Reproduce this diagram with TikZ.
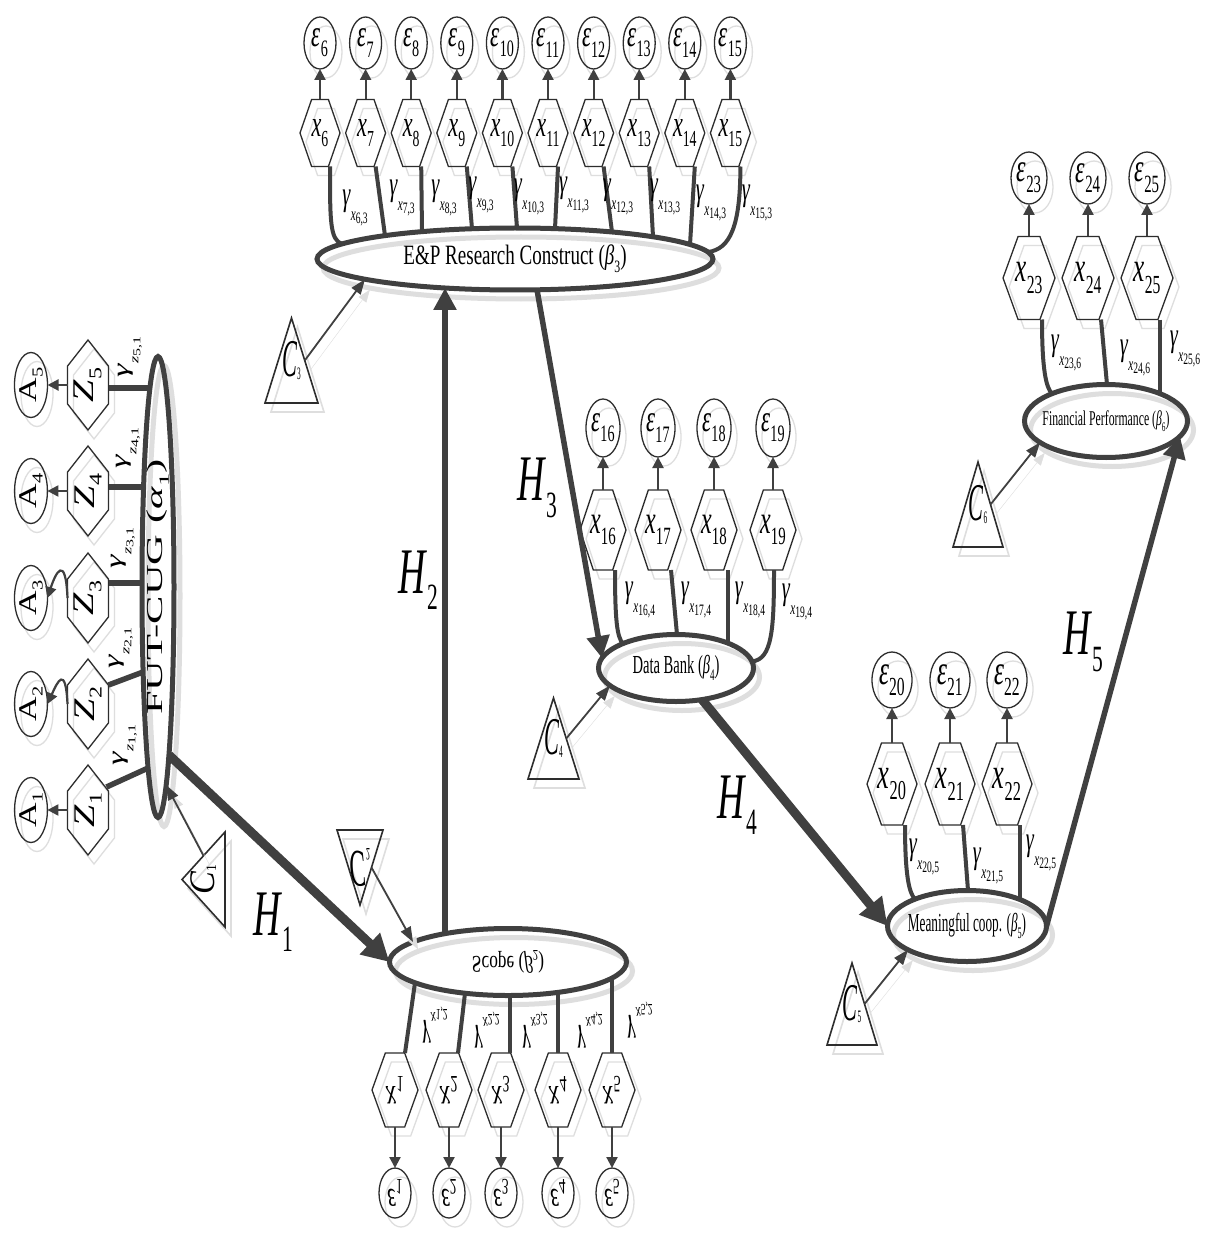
\documentclass[tikz,border=0pt]{standalone}
\usepackage{graphicx}
\usepackage{fontspec}
\setmainfont{Liberation Serif}
\usetikzlibrary{shapes.geometric,arrows.meta,calc}

\definecolor{ink}{RGB}{64,64,64}
\definecolor{edge}{RGB}{45,45,45}
\definecolor{ghost}{RGB}{222,222,222}

% hexagon with pointed left/right ends and triangle with apex on top
\makeatletter
\newdimen\hxXa \newdimen\hxXb \newdimen\hxYa \newdimen\hxYb
\newdimen\hxYm \newdimen\hxXl \newdimen\hxXr
\pgfdeclareshape{hexa}{
  \inheritsavedanchors[from=rectangle]
  \inheritanchorborder[from=rectangle]
  \inheritanchor[from=rectangle]{center}
  \inheritanchor[from=rectangle]{north}
  \inheritanchor[from=rectangle]{south}
  \inheritanchor[from=rectangle]{east}
  \inheritanchor[from=rectangle]{west}
  \inheritanchor[from=rectangle]{north east}
  \inheritanchor[from=rectangle]{north west}
  \inheritanchor[from=rectangle]{south east}
  \inheritanchor[from=rectangle]{south west}
  \backgroundpath{%
    \southwest \hxXa=\pgf@x \hxYa=\pgf@y
    \northeast \hxXb=\pgf@x \hxYb=\pgf@y
    \hxYm=0.5\hxYa \advance\hxYm by 0.5\hxYb
    \hxXl=\hxXb \advance\hxXl by -\hxXa \hxXl=0.29\hxXl
    \hxXr=\hxXb \advance\hxXr by -\hxXl
    \advance\hxXl by \hxXa
    \pgfpathmoveto{\pgfpoint{\hxXa}{\hxYm}}%
    \pgfpathlineto{\pgfpoint{\hxXl}{\hxYb}}%
    \pgfpathlineto{\pgfpoint{\hxXr}{\hxYb}}%
    \pgfpathlineto{\pgfpoint{\hxXb}{\hxYm}}%
    \pgfpathlineto{\pgfpoint{\hxXr}{\hxYa}}%
    \pgfpathlineto{\pgfpoint{\hxXl}{\hxYa}}%
    \pgfpathclose
  }
}
\pgfdeclareshape{tri}{
  \inheritsavedanchors[from=rectangle]
  \inheritanchorborder[from=rectangle]
  \inheritanchor[from=rectangle]{center}
  \inheritanchor[from=rectangle]{north}
  \inheritanchor[from=rectangle]{south}
  \inheritanchor[from=rectangle]{east}
  \inheritanchor[from=rectangle]{west}
  \inheritanchor[from=rectangle]{north east}
  \inheritanchor[from=rectangle]{north west}
  \inheritanchor[from=rectangle]{south east}
  \inheritanchor[from=rectangle]{south west}
  \backgroundpath{%
    \southwest \hxXa=\pgf@x \hxYa=\pgf@y
    \northeast \hxXb=\pgf@x \hxYb=\pgf@y
    \hxXl=0.5\hxXa \advance\hxXl by 0.5\hxXb
    \pgfpathmoveto{\pgfpoint{\hxXa}{\hxYa}}%
    \pgfpathlineto{\pgfpoint{\hxXb}{\hxYa}}%
    \pgfpathlineto{\pgfpoint{\hxXl}{\hxYb}}%
    \pgfpathclose
  }
}
\makeatother

% symbol with a lowered, smaller index
\newcommand\sublbl[4]{#1\raisebox{-#2em}{\scalebox{#3}{#4}}}
% narrow (horizontal) and flat (vertical) squeezing of labels
\newcommand\hsq[2][0.6]{\makebox[0pt]{\scalebox{#1}[1]{#2}}}
\newcommand\vsq[2][0.72]{\makebox[0pt]{\scalebox{1}[#1]{#2}}}
% a shape with its pale offset copy behind it
\newcommand\twinnode[4]{%
  \node[#1,ghostcopy] at ([shift={(6,9)}]#3) {};
  \node[#1] (#2) at (#3) {#4};}

\begin{document}
\begin{tikzpicture}[x=1pt,y=-1pt,
  every node/.style={inner sep=0pt,outer sep=0pt},
  ghostcopy/.style={draw=ghost},
  epsnode/.style={ellipse,draw=edge,line width=1.3pt,minimum width=32pt,minimum height=52pt,font=\fontsize{38}{38}\selectfont},
  hexnode/.style={hexa,draw=edge,line width=1.3pt,minimum width=40pt,minimum height=67pt,font=\fontsize{37}{37}\selectfont},
  bigell/.style={ellipse,draw=ink,line width=5pt},
  ctri/.style={tri,draw=edge,line width=1.6pt,font=\fontsize{53}{53}\selectfont},
  tiparrow/.style={draw=ink,line width=2.2pt,-{Triangle[length=11pt,width=11pt]}},
  linkline/.style={draw=ink,line width=4pt},
  harrow/.style={draw=ink,line width=#1,-{Triangle[length=22pt,width=22pt]}},
  harrow/.default=6pt,
  heavyarrow/.style={draw=ink,line width=9pt,-{Triangle[length=27pt,width=28pt]}},
  carrow/.style={draw=ink,line width=1.8pt,-{Triangle[length=15pt,width=11pt]},
    preaction={draw=ghost,transform canvas={shift={(6pt,-9pt)}}}},
  gammalab/.style={font=\fontsize{34}{34}\selectfont},
  hlab/.style={font=\fontsize{65}{65}\selectfont},
]
\fill[white] (0,0) rectangle (1204,1238);
\useasboundingbox (0,0) rectangle (1204,1238);

% ---------- E&P research construct (beta_3) ----------
\foreach \i in {6,...,15}{
  \pgfmathsetmacro\xx{320+45.6*(\i-6)}
  \twinnode{epsnode}{e\i}{\xx,43}{\hsq{\sublbl{\textit{ε}}{0.27}{0.62}{\i}}}
  \twinnode{hexnode}{h\i}{\xx,133}{\hsq{\sublbl{\textit{x}}{0.27}{0.62}{\i}}}
  \draw[tiparrow] (h\i) -- (e\i);
}
\twinnode{bigell,minimum width=396pt,minimum height=62pt,font=\fontsize{28}{28}\selectfont}{ep}{515,259}
  {\hsq[0.68]{E\&P Research Construct (\sublbl{\textit{β}}{0.27}{0.62}{3})}}
\foreach \i/\dx in {7/-130,8/-93,9/-43,10/2,11/40,12/97,13/138,14/175}
  \draw[linkline] ([xshift=10pt]h\i.south) -- ($(ep.center)+(\dx,{-31*sqrt(1-(\dx/198)*(\dx/198))})$);
\draw[linkline] ([xshift=10pt]h6.south) .. controls +(0,55) and +(-12,-4) ..
  ($(ep.center)+(-173,{-31*sqrt(1-(173/198)^2)})$);
\draw[linkline] ([xshift=10pt]h15.south) .. controls +(0,60) and +(22,-3) ..
  ($(ep.center)+(193,{-31*sqrt(1-(193/198)^2)})$);
\foreach \i/\gx/\gy in {6/355/208,7/402/198,8/444/198,9/481/195,10/529/197,11/574/195,12/618/197,13/665/197,14/711/203,15/757/203}
  \node[gammalab] (g\i) at (\gx,\gy) {\hsq{\sublbl{\textit{γ}}{0.45}{0.55}{\sublbl{\textit{x}}{0.15}{0.85}{\i,3}}}};

% ---------- Data Bank (beta_4) ----------
\foreach \i/\xx in {16/603,17/658,18/714,19/773}{
  \twinnode{epsnode,minimum width=34pt,minimum height=58pt}{e\i}{\xx,428}{\hsq{\sublbl{\textit{ε}}{0.27}{0.62}{\i}}}
  \twinnode{hexnode,minimum width=46pt,minimum height=80pt,font=\fontsize{40}{40}\selectfont}{h\i}{\xx,530}{\hsq{\sublbl{\textit{x}}{0.27}{0.62}{\i}}}
  \draw[tiparrow] (h\i) -- (e\i);
}
\twinnode{bigell,minimum width=155pt,minimum height=67pt,font=\fontsize{26}{26}\selectfont}{db}{676,668}
  {\hsq[0.56]{Data Bank (\sublbl{\textit{β}}{0.27}{0.62}{4})}}
\draw[linkline] ([xshift=12pt]h16.south) .. controls +(0,50) and +(-6,-6) ..
  ($(db.center)+(-53,{-33.5*sqrt(1-(53/77.5)^2)})$);
\draw[linkline] ([xshift=13pt]h17.south) -- ($(db.center)+(1,{-33.5*sqrt(1-(1/77.5)^2)})$);
\draw[linkline] ([xshift=14pt]h18.south) -- ($(db.center)+(52,{-33.5*sqrt(1-(52/77.5)^2)})$);
\draw[linkline] ([xshift=1pt]h19.south) .. controls +(0,60) and +(20,-2) ..
  ($(db.center)+(76,{-33.5*sqrt(1-(76/77.5)^2)})$);
\foreach \i/\gx/\gy in {16/640/600,17/696/600,18/750/600,19/797/602}
  \node[gammalab] (g\i) at (\gx,\gy) {\hsq{\sublbl{\textit{γ}}{0.45}{0.55}{\sublbl{\textit{x}}{0.15}{0.85}{\i,4}}}};

% ---------- Meaningful cooperation (beta_5) ----------
\foreach \i/\xx in {20/892,21/950,22/1007}{
  \twinnode{epsnode,minimum width=40pt,minimum height=56pt,font=\fontsize{42}{42}\selectfont}{e\i}{\xx,680}{\hsq{\sublbl{\textit{ε}}{0.27}{0.62}{\i}}}
  \twinnode{hexnode,minimum width=50pt,minimum height=82pt,font=\fontsize{44}{44}\selectfont}{h\i}{\xx,784}{\hsq{\sublbl{\textit{x}}{0.27}{0.62}{\i}}}
  \draw[tiparrow] (h\i) -- (e\i);
}
\twinnode{bigell,minimum width=159pt,minimum height=71pt,font=\fontsize{26}{26}\selectfont}{mc}{967,926}
  {\hsq[0.51]{Meaningful coop. (\sublbl{\textit{β}}{0.27}{0.62}{5})}}
\draw[linkline] ([xshift=13pt]h20.south) .. controls +(0,50) and +(-6,-6) ..
  ($(mc.center)+(-52,{-35.5*sqrt(1-(52/79.5)^2)})$);
\draw[linkline] ([xshift=13pt]h21.south) -- ($(mc.center)+(1,{-35.5*sqrt(1-(1/79.5)^2)})$);
\draw[linkline] ([xshift=13pt]h22.south) -- ($(mc.center)+(53,{-35.5*sqrt(1-(53/79.5)^2)})$);
\foreach \i/\gx/\gy in {20/924/857,21/988/866,22/1041/853}
  \node[gammalab] (g\i) at (\gx,\gy) {\hsq{\sublbl{\textit{γ}}{0.45}{0.55}{\sublbl{\textit{x}}{0.15}{0.85}{\i,5}}}};

% ---------- Financial performance (beta_6) ----------
\foreach \i/\xx in {23/1029,24/1088,25/1147}{
  \twinnode{epsnode,minimum width=36pt,minimum height=52pt,font=\fontsize{40}{40}\selectfont}{e\i}{\xx,178}{\hsq{\sublbl{\textit{ε}}{0.27}{0.62}{\i}}}
  \twinnode{hexnode,minimum width=52pt,minimum height=83pt,font=\fontsize{42}{42}\selectfont}{h\i}{\xx,278}{\hsq{\sublbl{\textit{x}}{0.27}{0.62}{\i}}}
  \draw[tiparrow] (h\i) -- (e\i);
}
\twinnode{bigell,minimum width=163pt,minimum height=73pt,font=\fontsize{21}{21}\selectfont}{fp}{1106,421}
  {\hsq[0.56]{Financial Performance (\sublbl{\textit{β}}{0.27}{0.62}{6})}}
\draw[linkline] ([xshift=13pt]h23.south) .. controls +(0,50) and +(-6,-6) ..
  ($(fp.center)+(-54,{-36.5*sqrt(1-(54/81.5)^2)})$);
\draw[linkline] ([xshift=13pt]h24.south) -- ($(fp.center)+(1,{-36.5*sqrt(1-(1/81.5)^2)})$);
\draw[linkline] ([xshift=13pt]h25.south) -- ($(fp.center)+(54,{-36.5*sqrt(1-(54/81.5)^2)})$);
\foreach \i/\gx/\gy in {23/1066/353,24/1135/358,25/1185/349}
  \node[gammalab] (g\i) at (\gx,\gy) {\hsq{\sublbl{\textit{γ}}{0.45}{0.55}{\sublbl{\textit{x}}{0.15}{0.85}{\i,6}}}};

% ---------- Scope (beta_2), drawn mirrored ----------
\foreach \i/\xx in {1/395,2/449,3/501,4/558,5/612}{
  \twinnode{epsnode,yscale=-1,minimum width=32pt,minimum height=50pt,font=\fontsize{36}{36}\selectfont}{se\i}{\xx,1193}{\hsq{\sublbl{\textit{ε}}{0.27}{0.62}{\i}}}
  \twinnode{hexnode,yscale=-1,minimum width=46pt,minimum height=74pt,font=\fontsize{38}{38}\selectfont}{s\i}{\xx,1090}{\hsq{\sublbl{\textit{x}}{0.27}{0.62}{\i}}}
  \draw[tiparrow] (s\i) -- (se\i);
}
\twinnode{bigell,yscale=-1,minimum width=237pt,minimum height=67pt,font=\fontsize{24}{24}\selectfont}{sc}{508,962}
  {\hsq[0.72]{Scope (\sublbl{\textit{β}}{0.27}{0.62}{2})}}
\foreach \i/\sx/\dx in {1/10/-93,2/9/-43,3/9/2,4/0/50,5/0/104}
  \draw[linkline] ([xshift=\sx pt]s\i.south) -- ($(sc.center)+(\dx,{33.5*sqrt(1-(\dx/118.5)*(\dx/118.5))})$);
\foreach \i/\gx/\gy in {1/435/1025,2/487/1030,3/535/1030,4/590/1030,5/640/1020}
  \node[gammalab,yscale=-1] (gs\i) at (\gx,\gy) {\hsq{\sublbl{\textit{γ}}{0.45}{0.55}{\sublbl{\textit{x}}{0.15}{0.85}{\i,2}}}};

% ---------- FUT-CUG (alpha_1), drawn turned ----------
\twinnode{bigell,rotate=90,minimum width=461pt,minimum height=32pt,font=\fontsize{38}{38}\selectfont}{fut}{158,587}
  {\makebox[0pt]{\scalebox{1.12}[0.6]{FUT-CUG (\sublbl{\textit{α}}{0.27}{0.62}{1})}}}
\foreach \i/\yy in {1/810,2/704,3/598,4/491,5/385}{
  \twinnode{hexnode,rotate=90,minimum width=90pt,minimum height=41pt,font=\fontsize{40}{40}\selectfont}{z\i}{88,\yy}{\vsq[0.75]{\sublbl{\textit{Z}}{0.25}{0.6}{\i}}}
  \twinnode{epsnode,rotate=90,minimum width=65pt,minimum height=32pt,font=\fontsize{34}{34}\selectfont}{a\i}{31,\yy}{\vsq[0.75]{\sublbl{A}{0.25}{0.6}{\i}}}
}
\foreach \i in {1,4,5} \draw[tiparrow] (z\i) -- (a\i);
\draw[tiparrow] (z3.north) .. controls +(-2,-45) and +(8,-25) .. (a3.south);
\draw[tiparrow] (z2.north) .. controls +(-2,-40) and +(10,-22) .. (a2.south);
\begin{scope}[linkline,line width=5.5pt]
  \draw ([shift={(0,3)}]z5.south) -- ($(fut.center)+({-16*sqrt(1-(199/230.5)^2)},-199)$);
  \draw ([shift={(0,-4)}]z4.south) -- ($(fut.center)+({-16*sqrt(1-(100/230.5)^2)},-100)$);
  \draw ([shift={(0,-15)}]z3.south) -- ($(fut.center)+({-16*sqrt(1-(4/230.5)^2)},-4)$);
  \draw ([shift={(0,-19)}]z2.south) -- ($(fut.center)+({-16*sqrt(1-(85/230.5)^2)},85)$);
  \draw ([shift={(-2,-23)}]z1.south) -- ($(fut.center)+({-16*sqrt(1-(181/230.5)^2)},181)$);
\end{scope}
\foreach \i/\gx/\gy in {5/130/357,4/128/448,3/123/548,2/121/648,1/125/745}
  \node[gammalab,rotate=90] (gz\i) at (\gx,\gy) {\vsq[0.66]{\sublbl{\textit{γ}}{0.45}{0.55}{\sublbl{\textit{z}}{0.15}{0.85}{\i,1}}}};

% ---------- control variables ----------
\twinnode{ctri,rotate=90,minimum width=95pt,minimum height=43pt,font=\fontsize{36}{36}\selectfont}{c1}{203.5,879.5}
  {\raisebox{-5pt}{\hsq[0.95]{\sublbl{\textit{C}}{0.04}{0.4}{1}}}}
\twinnode{ctri,yscale=-1,minimum width=46pt,minimum height=75pt}{c2}{360,867.5}
  {\raisebox{-10pt}{\hsq[0.45]{\sublbl{\textit{C}}{0.04}{0.33}{2}}}}
\twinnode{ctri,minimum width=53pt,minimum height=85pt}{c3}{291.5,360.5}
  {\raisebox{-12pt}{\hsq[0.42]{\sublbl{\textit{C}}{0.04}{0.33}{3}}}}
\twinnode{ctri,minimum width=51pt,minimum height=81pt}{c4}{553.5,738.5}
  {\raisebox{-12pt}{\hsq[0.42]{\sublbl{\textit{C}}{0.04}{0.33}{4}}}}
\twinnode{ctri,minimum width=50pt,minimum height=82pt}{c5}{852,1004}
  {\raisebox{-12pt}{\hsq[0.42]{\sublbl{\textit{C}}{0.04}{0.33}{5}}}}
\twinnode{ctri,minimum width=50pt,minimum height=85pt}{c6}{978,504.5}
  {\raisebox{-12pt}{\hsq[0.42]{\sublbl{\textit{C}}{0.04}{0.33}{6}}}}

\draw[carrow] ($(c1.north)!0.5!(c1.south east)$) -- ($(fut.center)+({16*sqrt(1-(198/230.5)^2)},198)$);
\draw[carrow] ($(c2.north)!0.5!(c2.south east)$) -- ($(sc.center)+(-95,{-33.5*sqrt(1-(95/118.5)^2)})$);
\draw[carrow] ($(c3.north)!0.5!(c3.south east)$) -- ($(ep.center)+(-150,{31*sqrt(1-(150/198)^2)})$);
\draw[carrow] ($(c4.north)!0.5!(c4.south east)$) -- ($(db.center)+(-66,{33.5*sqrt(1-(66/77.5)^2)})$);
\draw[carrow] ($(c5.north)!0.5!(c5.south east)$) -- ($(mc.center)+(-59,{35.5*sqrt(1-(59/79.5)^2)})$);
\draw[carrow] ($(c6.north)!0.5!(c6.south east)$) -- ($(fp.center)+(-66,{36.5*sqrt(1-(66/81.5)^2)})$);

% ---------- hypotheses ----------
\draw[heavyarrow] ($(fut.center)+({16*sqrt(1-(168/230.5)^2)},168)$) -- (sc.west);
\draw[harrow=6pt] ($(sc.center)+(-63,{-33.5*sqrt(1-(63/118.5)^2)})$) -- ($(ep.center)+(-70,{31*sqrt(1-(70/198)^2)})$);
\draw[harrow=5.5pt] ($(ep.center)+(22,{31*sqrt(1-(22/198)^2)})$) -- ($(db.center)+(-74,{-33.5*sqrt(1-(74/77.5)^2)})$);
\draw[heavyarrow] ($(db.center)+(26,{33.5*sqrt(1-(26/77.5)^2)})$) -- (mc.west);
\draw[harrow=5.5pt] (mc.east) -- ($(fp.center)+(74,{36.5*sqrt(1-(74/81.5)^2)})$);

\node[hlab] (H1) at (273,922) {\hsq[0.58]{\sublbl{\textit{H}}{0.25}{0.57}{1}}};
\node[hlab] (H2) at (418,580) {\hsq[0.58]{\sublbl{\textit{H}}{0.25}{0.57}{2}}};
\node[hlab] (H3) at (537,488) {\hsq[0.58]{\sublbl{\textit{H}}{0.25}{0.57}{3}}};
\node[hlab] (H4) at (737,805) {\hsq[0.58]{\sublbl{\textit{H}}{0.25}{0.57}{4}}};
\node[hlab] (H5) at (1083,642) {\hsq[0.58]{\sublbl{\textit{H}}{0.25}{0.57}{5}}};
\end{tikzpicture}
\end{document}
